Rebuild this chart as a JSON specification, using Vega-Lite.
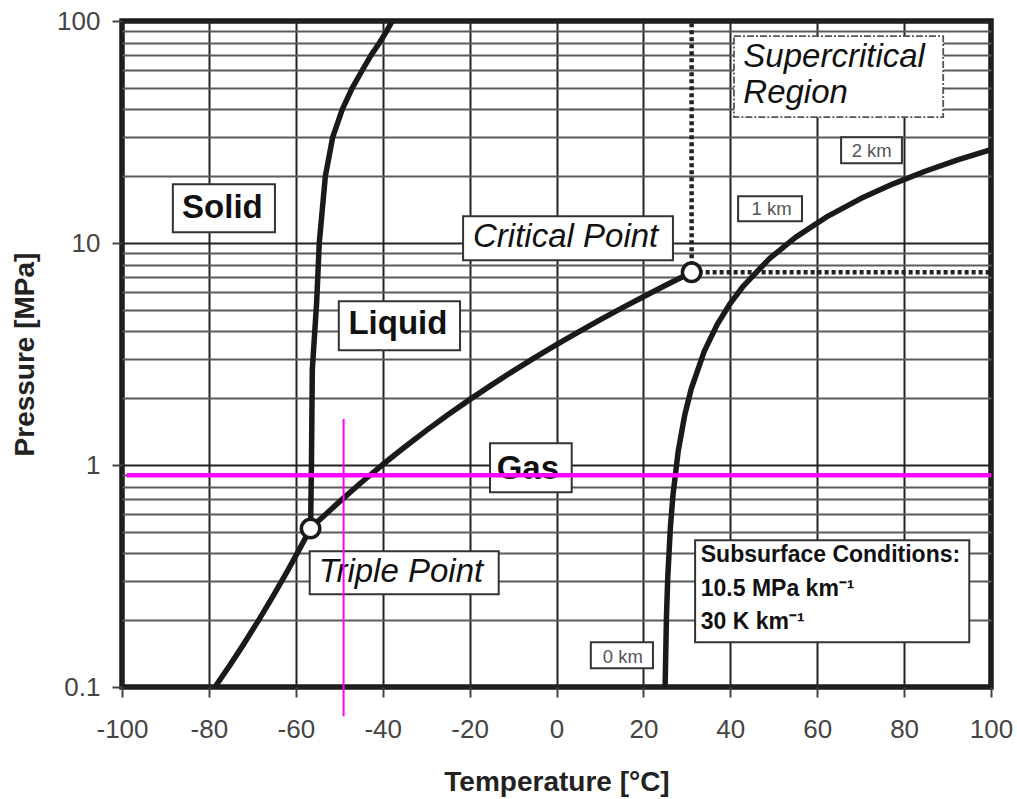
{
  "$schema": "https://vega.github.io/schema/vega-lite/v6.json",
  "width": 869,
  "height": 666,
  "autosize": "none",
  "padding": {"left": 122, "top": 21, "right": 26, "bottom": 112},
  "background": "white",
  "config": {
    "view": {"stroke": "#1a1a1a", "strokeWidth": 5.5},
    "font": "Liberation Sans"
  },
  "datasets": {
    "curves": [
      {"curve": "vapor", "T": -78.6, "P": 0.1},
      {"curve": "vapor", "T": -75, "P": 0.1268},
      {"curve": "vapor", "T": -72, "P": 0.156},
      {"curve": "vapor", "T": -68.3, "P": 0.2037},
      {"curve": "vapor", "T": -65, "P": 0.2615},
      {"curve": "vapor", "T": -62, "P": 0.331},
      {"curve": "vapor", "T": -59, "P": 0.423},
      {"curve": "vapor", "T": -56.6, "P": 0.518},
      {"curve": "vapor", "T": -55, "P": 0.555},
      {"curve": "vapor", "T": -50, "P": 0.682},
      {"curve": "vapor", "T": -45, "P": 0.832},
      {"curve": "vapor", "T": -40, "P": 1.005},
      {"curve": "vapor", "T": -35, "P": 1.202},
      {"curve": "vapor", "T": -30, "P": 1.428},
      {"curve": "vapor", "T": -25, "P": 1.683},
      {"curve": "vapor", "T": -20, "P": 1.97},
      {"curve": "vapor", "T": -15, "P": 2.29},
      {"curve": "vapor", "T": -10, "P": 2.649},
      {"curve": "vapor", "T": -5, "P": 3.046},
      {"curve": "vapor", "T": 0, "P": 3.485},
      {"curve": "vapor", "T": 5, "P": 3.969},
      {"curve": "vapor", "T": 10, "P": 4.502},
      {"curve": "vapor", "T": 15, "P": 5.086},
      {"curve": "vapor", "T": 20, "P": 5.729},
      {"curve": "vapor", "T": 25, "P": 6.434},
      {"curve": "vapor", "T": 31.1, "P": 7.38},
      {"curve": "melting", "T": -56.6, "P": 0.518},
      {"curve": "melting", "T": -56.4, "P": 1},
      {"curve": "melting", "T": -56.2, "P": 2.7},
      {"curve": "melting", "T": -55.2, "P": 5.4},
      {"curve": "melting", "T": -54.6, "P": 10},
      {"curve": "melting", "T": -53.2, "P": 20},
      {"curve": "melting", "T": -51.5, "P": 30},
      {"curve": "melting", "T": -49.3, "P": 40},
      {"curve": "melting", "T": -47, "P": 50},
      {"curve": "melting", "T": -44.7, "P": 60},
      {"curve": "melting", "T": -42.7, "P": 70},
      {"curve": "melting", "T": -40.7, "P": 80},
      {"curve": "melting", "T": -39.1, "P": 90},
      {"curve": "melting", "T": -37.8, "P": 100},
      {"curve": "geotherm", "T": 25, "P": 0.1},
      {"curve": "geotherm", "T": 25.3, "P": 0.205},
      {"curve": "geotherm", "T": 25.6, "P": 0.31},
      {"curve": "geotherm", "T": 26.2, "P": 0.52},
      {"curve": "geotherm", "T": 26.8, "P": 0.73},
      {"curve": "geotherm", "T": 28, "P": 1.15},
      {"curve": "geotherm", "T": 29.5, "P": 1.675},
      {"curve": "geotherm", "T": 31, "P": 2.2},
      {"curve": "geotherm", "T": 34, "P": 3.25},
      {"curve": "geotherm", "T": 37, "P": 4.3},
      {"curve": "geotherm", "T": 40, "P": 5.35},
      {"curve": "geotherm", "T": 43, "P": 6.4},
      {"curve": "geotherm", "T": 49, "P": 8.5},
      {"curve": "geotherm", "T": 55, "P": 10.6},
      {"curve": "geotherm", "T": 62.5, "P": 13.225},
      {"curve": "geotherm", "T": 70, "P": 15.85},
      {"curve": "geotherm", "T": 77.5, "P": 18.475},
      {"curve": "geotherm", "T": 85, "P": 21.1},
      {"curve": "geotherm", "T": 92.5, "P": 23.725},
      {"curve": "geotherm", "T": 100, "P": 26.35}
    ],
    "boxes": [
      {"box": "Solid", "T": -88.3, "T2": -64.8, "P": 18.4, "P2": 11.19},
      {"box": "Liquid", "T": -50.1, "T2": -22.2, "P": 5.47, "P2": 3.29},
      {"box": "Gas", "T": -15.3, "T2": 3.5, "P": 1.254, "P2": 0.754},
      {"box": "Critical Point", "T": -21.5, "T2": 26.8, "P": 13.2, "P2": 8.37},
      {"box": "Triple Point", "T": -56.8, "T2": -13.3, "P": 0.409, "P2": 0.262},
      {"box": "2 km", "T": 65.5, "T2": 79.5, "P": 29.97, "P2": 22.88},
      {"box": "1 km", "T": 41.8, "T2": 56.5, "P": 16.25, "P2": 12.54},
      {"box": "0 km", "T": 7.9, "T2": 22.2, "P": 0.159, "P2": 0.1216},
      {"box": "Subsurface", "T": 31.9, "T2": 95.0, "P": 0.4585, "P2": 0.159}
    ],
    "superBox": [
      {"box": "Supercritical", "T": 40.85, "T2": 89.0, "P": 85.4, "P2": 36.9}
    ],
    "regionLabels": [
      {"label": "Solid", "T": -76.9, "P": 14.62},
      {"label": "Liquid", "T": -36.5, "P": 4.385},
      {"label": "Gas", "T": -6.6, "P": 0.9825}
    ],
    "pointLabels": [
      {"label": "Critical Point", "T": 2.1, "P": 10.87},
      {"label": "Triple Point", "T": -35.8, "P": 0.3365}
    ],
    "superLabels": [
      {"label": "Supercritical", "T": 43.0, "P": 70.3},
      {"label": "Region", "T": 43.0, "P": 48.4}
    ],
    "kmLabels": [
      {"label": "2 km", "T": 72.55, "P": 26.24},
      {"label": "1 km", "T": 49.5, "P": 14.32},
      {"label": "0 km", "T": 15.25, "P": 0.138}
    ],
    "notes": [
      {"label": "Subsurface Conditions:", "T": 33.2, "P": 0.3965},
      {"label": "10.5 MPa km⁻¹", "T": 33.2, "P": 0.278},
      {"label": "30 K km⁻¹", "T": 33.2, "P": 0.1985}
    ],
    "points": [
      {"name": "Triple Point", "T": -56.6, "P": 0.518},
      {"name": "Critical Point", "T": 31.1, "P": 7.38}
    ],
    "dotted": [
      {"line": "v", "T": 31.1, "T2": 31.1, "P": 7.38, "P2": 100},
      {"line": "h", "T": 31.1, "T2": 100, "P": 7.38, "P2": 7.38}
    ],
    "magenta": [
      {"line": "h", "T": -98.9, "T2": 100, "P": 0.9, "P2": 0.9},
      {"line": "v", "T": -49, "T2": -49, "P": 1.61, "P2": 0.0739}
    ]
  },
  "encoding": {
    "x": {
      "field": "T",
      "type": "quantitative",
      "scale": {"domain": [-100, 100], "nice": false, "zero": false},
      "axis": {
        "title": "Temperature [°C]",
        "values": [-100, -80, -60, -40, -20, 0, 20, 40, 60, 80, 100],
        "labelExpr": "'' + datum.value",
        "grid": true,
        "gridColor": "#222",
        "gridWidth": 2,
        "domain": false,
        "ticks": true,
        "tickSize": 10,
        "tickWidth": 2,
        "tickColor": "#444",
        "labelFont": "Liberation Sans",
        "labelFontSize": 26,
        "labelColor": "#444",
        "labelPadding": 32,
        "labelBaseline": "middle",
        "labelFlush": false,
        "labelOverlap": false,
        "titleFont": "Liberation Sans",
        "titleFontSize": 28,
        "titleFontWeight": "bold",
        "titleColor": "#222",
        "titleY": 95,
        "titleBaseline": "middle"
      }
    },
    "y": {
      "field": "P",
      "type": "quantitative",
      "scale": {"type": "log", "domain": [0.1, 100], "nice": false},
      "axis": {
        "title": "Pressure [MPa]",
        "values": [0.1, 0.2, 0.3, 0.4, 0.5, 0.6, 0.7, 0.8, 0.9, 1, 2, 3, 4, 5, 6, 7, 8, 9, 10, 20, 30, 40, 50, 60, 70, 80, 90, 100],
        "labelExpr": "indexof([0.1, 1, 10, 100], datum.value) >= 0 ? '' + datum.value : ''",
        "grid": true,
        "gridColor": {"condition": {"test": "indexof([0.1, 1, 10, 100], datum.value) >= 0", "value": "#222"}, "value": "#5a5a5a"},
        "gridWidth": 2,
        "domain": false,
        "tickSize": 10,
        "tickWidth": 2,
        "tickColor": "#444",
        "tickOpacity": {"condition": {"test": "indexof([0.1, 1, 10, 100], datum.value) >= 0", "value": 1}, "value": 0},
        "labelFont": "Liberation Sans",
        "labelFontSize": 26,
        "labelColor": "#444",
        "labelPadding": 12,
        "labelBaseline": "middle",
        "labelFlush": false,
        "labelOverlap": false,
        "titleFont": "Liberation Sans",
        "titleFontSize": 28,
        "titleFontWeight": "bold",
        "titleColor": "#222",
        "titleAngle": -90,
        "titleX": -97,
        "titleY": 333,
        "titleAlign": "center",
        "titleBaseline": "middle"
      }
    }
  },
  "layer": [
    {
      "data": {"name": "curves"},
      "mark": {"type": "line", "color": "#1a1a1a", "strokeWidth": 5.5, "strokeCap": "butt", "strokeJoin": "round"},
      "encoding": {"detail": {"field": "curve", "type": "nominal"}}
    },
    {
      "data": {"name": "boxes"},
      "mark": {"type": "rect", "fill": "white", "stroke": "#333", "strokeWidth": 2},
      "encoding": {"x2": {"field": "T2"}, "y2": {"field": "P2"}}
    },
    {
      "data": {"name": "superBox"},
      "mark": {"type": "rect", "fill": "white", "stroke": "#555", "strokeWidth": 1.8, "strokeDash": [7, 2, 2, 2]},
      "encoding": {"x2": {"field": "T2"}, "y2": {"field": "P2"}}
    },
    {
      "data": {"name": "regionLabels"},
      "mark": {"type": "text", "font": "Liberation Sans", "fontSize": 33, "fontWeight": "bold", "color": "#111", "align": "center", "baseline": "middle", "dy": 2},
      "encoding": {"text": {"field": "label"}}
    },
    {
      "data": {"name": "pointLabels"},
      "mark": {"type": "text", "font": "Liberation Sans", "fontSize": 33, "fontStyle": "italic", "color": "#111", "align": "center", "baseline": "middle", "dy": 2},
      "encoding": {"text": {"field": "label"}}
    },
    {
      "data": {"name": "superLabels"},
      "mark": {"type": "text", "font": "Liberation Sans", "fontSize": 33, "fontStyle": "italic", "color": "#111", "align": "left", "baseline": "middle", "dy": 2},
      "encoding": {"text": {"field": "label"}}
    },
    {
      "data": {"name": "kmLabels"},
      "mark": {"type": "text", "font": "Liberation Sans", "fontSize": 18.5, "color": "#555", "align": "center", "baseline": "middle", "dy": 1},
      "encoding": {"text": {"field": "label"}}
    },
    {
      "data": {"name": "notes"},
      "mark": {"type": "text", "font": "Liberation Sans", "fontSize": 23, "fontWeight": "bold", "color": "#111", "align": "left", "baseline": "middle", "dy": 1},
      "encoding": {"text": {"field": "label"}}
    },
    {
      "data": {"name": "dotted"},
      "mark": {"type": "rule", "color": "#222", "strokeWidth": 4.5, "strokeDash": [4, 3]},
      "encoding": {"x2": {"field": "T2"}, "y2": {"field": "P2"}}
    },
    {
      "data": {"name": "points"},
      "mark": {"type": "point", "shape": "circle", "size": 340, "filled": false, "fill": "white", "fillOpacity": 1, "stroke": "#1a1a1a", "strokeWidth": 3.5, "opacity": 1},
      "encoding": {}
    },
    {
      "data": {"name": "magenta"},
      "transform": [{"filter": "datum.line == 'h'"}],
      "mark": {"type": "rule", "color": "#ff00ff", "strokeWidth": 4.5, "clip": false},
      "encoding": {"x2": {"field": "T2"}, "y2": {"field": "P2"}}
    },
    {
      "data": {"name": "magenta"},
      "transform": [{"filter": "datum.line == 'v'"}],
      "mark": {"type": "rule", "color": "#ff00ff", "strokeWidth": 2, "clip": false},
      "encoding": {"x2": {"field": "T2"}, "y2": {"field": "P2"}}
    }
  ]
}
